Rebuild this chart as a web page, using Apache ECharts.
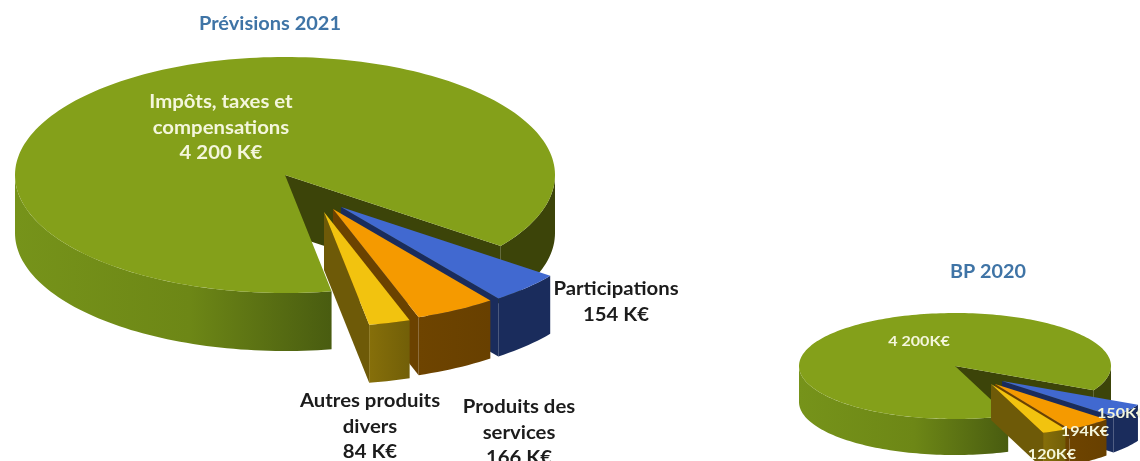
<!DOCTYPE html>
<html><head><meta charset="utf-8">
<style>html,body{margin:0;padding:0;background:#fff}#c{width:1140px;height:461px}</style>
<script src="https://cdn.jsdelivr.net/npm/echarts@6/dist/echarts.min.js"></script>
</head><body><div id="c"></div>
<script>
// ---- data ----
const categories2021 = ['Impôts, taxes et compensations', 'Participations', 'Produits des services', 'Autres produits divers'];
const values2021 = [4200, 154, 166, 84];
const categories2020 = ['Impôts, taxes et compensations', 'Participations', 'Produits des services', 'Autres produits divers'];
const values2020 = [4200, 150, 194, 120];

// ---- look ----
const FONT = 'Lato, Carlito, "Open Sans", sans-serif';
const sliceStyles = [
  {top:'#84a01a', wall:[['0','#76931a'],['0.55','#6d8716'],['1','#495c10']], rightWall:'#3c4409', cut:'#3c4409'},
  {top:'#4169d0', wall:[['0','#1a2c5c'],['1','#1a2c5c']], cut:'#1a2c5c'},
  {top:'#f59a00', wall:[['0','#6e4400'],['1','#684000']], cut:'#6b4200'},
  {top:'#f2c30f', wall:[['0','#866f0a'],['1','#725f08']], cut:'#6e5a08'}
];
const pie2021 = {cx:285, cy:175, rx:270, ry:118, depth:58, warp:0.40, phase:0, startAngle:82.9, radius:0.97,
  offsets:[[0,0],[56,32],[48,34],[39,37]]};
const pie2020 = {cx:955, cy:366, rx:156, ry:53, depth:36, warp:0.90, phase:-166.4, startAngle:18.7, radius:0.98,
  offsets:[[0,0],[47,15],[40,18],[36,18]]};

// Perspective: the drawn disc is not an even projection, so angles are remapped.
function warpAngle(deg, a, phase){ return deg - a*180/Math.PI*Math.cos((deg-phase)*Math.PI/180); }

function makeRenderItem(pie, values){
  const total = values.reduce((s,v)=>s+v,0);
  return function(params){
    const i = params.dataIndex;
    let before = 0; for(let k=0;k<i;k++) before += values[k];
    const a0 = pie.startAngle + before/total*360;
    const a1 = a0 + values[i]/total*360;
    const t0 = warpAngle(a0,pie.warp,pie.phase), t1 = warpAngle(a1,pie.warp,pie.phase);
    const off = pie.offsets[i], st = sliceStyles[i];
    const R = i===0 ? 1 : pie.radius;
    const ox = pie.cx+off[0], oy = pie.cy+off[1];
    const pt = (t,dz)=>{const r=t*Math.PI/180;return [ox+pie.rx*R*Math.cos(r), oy+pie.ry*R*Math.sin(r)+(dz||0)];};
    const arc = (a,b,dz)=>{const o=[];const n=Math.max(2,Math.ceil(Math.abs(b-a)/1.5));for(let k=0;k<=n;k++)o.push(pt(a+(b-a)*k/n,dz));return o;};
    const children = [];
    // outer wall, front half only
    [[0,180],[360,540]].forEach(function(w){
      const a=Math.max(t0,w[0]), b=Math.min(t1,w[1]);
      if(b<=a) return;
      const pts = arc(a,b,0).concat(arc(b,a,pie.depth));
      let fill;
      if(w[0]===360 && st.rightWall) fill = st.rightWall;
      else {
        const xs = pts.map(p=>p[0]);
        fill = new echarts.graphic.LinearGradient(Math.min(...xs),0,Math.max(...xs),0,
          st.wall.map(s=>({offset:+s[0],color:s[1]})),true);
      }
      children.push({type:'polygon',shape:{points:pts},style:{fill:fill}});
    });
    // visible cut face
    const e = pt(t1,0);
    children.push({type:'polygon',shape:{points:[[ox,oy],e,[e[0],e[1]+pie.depth],[ox,oy+pie.depth]]},style:{fill:st.cut}});
    // top
    children.push({type:'polygon',shape:{points:[[ox,oy]].concat(arc(t0,t1,0))},style:{fill:st.top}});
    return {type:'group',children:children};
  };
}

const frNumber = v => String(v).replace(/\B(?=(\d{3})+$)/g,' ');
function txt(x,y,text,size,color,align,sx){
  return {type:'text',x:x,y:y,scaleX:sx||1.13,silent:true,z:10,style:{text:text,font:'bold '+size+'px '+FONT,fill:color,
    align:align||'center',verticalAlign:'middle',lineHeight:25.5}};
}
const CREAM='#f4f6dc', INK='#1c1c1c', TITLE='#3f74a6';
const chart = echarts.init(document.getElementById('c'),null,{renderer:'canvas'});
chart.setOption({
  animation:false,
  series:[
    {type:'custom',name:'Prévisions 2021',coordinateSystem:'none',silent:true,clip:false,
     data:values2021.map((v,i)=>({name:categories2021[i],value:[v]})),renderItem:makeRenderItem(pie2021,values2021)},
    {type:'custom',name:'BP 2020',coordinateSystem:'none',silent:true,clip:false,
     data:values2020.map((v,i)=>({name:categories2020[i],value:[v]})),renderItem:makeRenderItem(pie2020,values2020)}
  ],
  graphic:[
    txt(270,24,'Prévisions 2021',18,TITLE,'center',1.11),
    txt(988,272,'BP 2020',18,TITLE,'center',1.10),
    txt(221,128,'Impôts, taxes et\ncompensations\n'+frNumber(values2021[0])+' K€',18,CREAM),
    txt(616,302,'Participations\n'+values2021[1]+' K€',18,INK),
    txt(519,433,'Produits des\nservices\n'+values2021[2]+' K€',18,INK),
    txt(370,427,'Autres produits\ndivers\n'+values2021[3]+' K€',18,INK),
    txt(919,341,frNumber(values2020[0])+'K€',14,CREAM,'center',1.15),
    txt(1097,413,values2020[1]+'K€',14,CREAM,'left',1.15),
    txt(1085,431,values2020[2]+'K€',14,CREAM,'center',1.15),
    txt(1052,454,values2020[3]+'K€',14,CREAM,'center',1.15)
  ]
});
</script></body></html>
